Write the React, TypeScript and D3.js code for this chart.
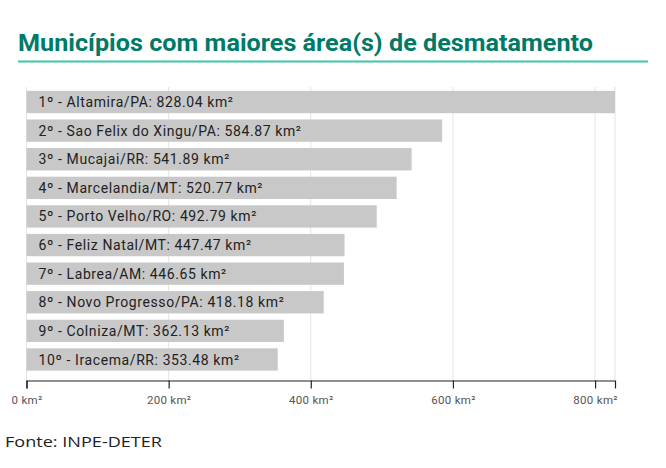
import { useEffect, useRef } from "react";
import { axisBottom, scaleBand, scaleLinear, select } from "d3";

const municipios = [
    "1º - Altamira/PA",
    "2º - Sao Felix do Xingu/PA",
    "3º - Mucajai/RR",
    "4º - Marcelandia/MT",
    "5º - Porto Velho/RO",
    "6º - Feliz Natal/MT",
    "7º - Labrea/AM",
    "8º - Novo Progresso/PA",
    "9º - Colniza/MT",
    "10º - Iracema/RR",
];
const areas = [828.04, 584.87, 541.89, 520.77, 492.79, 447.47, 446.65, 418.18, 362.13, 353.48];
const ticks = [0, 200, 400, 600, 800];

const width = 666;
const height = 468;
const plot = { left: 26.5, right: 615, top: 87, bottom: 380.5 };

export default function App() {
    const axisRef = useRef<SVGGElement>(null);

    const x = scaleLinear().domain([0, Math.max(...areas)]).range([plot.left, plot.right]);
    const y = scaleBand<string>()
        .domain(municipios)
        .range([plot.top + 1, plot.bottom - 7])
        .paddingInner(0.22)
        .paddingOuter(0.1);

    useEffect(() => {
        if (!axisRef.current) return;
        const g = select(axisRef.current);
        g.call(
            axisBottom(x)
                .tickValues(ticks)
                .tickSize(8)
                .tickFormat((d) => `${d} km²`)
        );
        g.select(".domain").attr("stroke", "#222").attr("stroke-width", 1.2);
        g.selectAll(".tick line").attr("stroke", "#222").attr("stroke-width", 1.2);
        g.selectAll(".tick text")
            .attr("fill", "#555")
            .attr("font-size", 11.5)
            .attr("font-family", "Roboto, sans-serif")
            .attr("letter-spacing", 0.3)
            .attr("dy", "1.05em");
    }, []);

    return (
        <svg width={width} height={height} style={{ position: "absolute", left: 0, top: 0 }}>
            <rect width={width} height={height} fill="#fff" />
            <text
                x={18}
                y={51}
                fontFamily="Roboto, sans-serif"
                fontWeight={700}
                fontSize={23}
                fill="#007a68"
                textLength={575}
                lengthAdjust="spacingAndGlyphs"
            >
                Municípios com maiores área(s) de desmatamento
            </text>
            <line x1={18} x2={648} y1={61.5} y2={61.5} stroke="#3cc6a6" strokeWidth={2} />

            {ticks.map((t) => (
                <line key={t} x1={x(t)} x2={x(t)} y1={plot.top} y2={plot.bottom} stroke="#e4e4e4" strokeWidth={1} />
            ))}
            <line x1={x.range()[1]} x2={x.range()[1]} y1={plot.top} y2={plot.bottom} stroke="#e4e4e4" />

            {municipios.map((m, i) => (
                <g key={m}>
                    <rect
                        x={x(0)}
                        y={y(m)}
                        width={x(areas[i]) - x(0)}
                        height={y.bandwidth()}
                        fill="#c8c8c8"
                    />
                    <text
                        x={x(0) + 12}
                        y={(y(m) ?? 0) + y.bandwidth() / 2}
                        dy="0.36em"
                        fontFamily="Roboto, sans-serif"
                        fontSize={14}
                        letterSpacing={0.6}
                        fill="#222"
                    >
                        {`${m}: ${areas[i].toFixed(2)} km²`}
                    </text>
                </g>
            ))}

            <g ref={axisRef} transform={`translate(0, ${plot.bottom})`} />

            <text x={5} y={447} fontFamily="'Open Sans', sans-serif" fontSize={14.5} fill="#222" textLength={157} lengthAdjust="spacingAndGlyphs">
                Fonte: INPE-DETER
            </text>
        </svg>
    );
}
